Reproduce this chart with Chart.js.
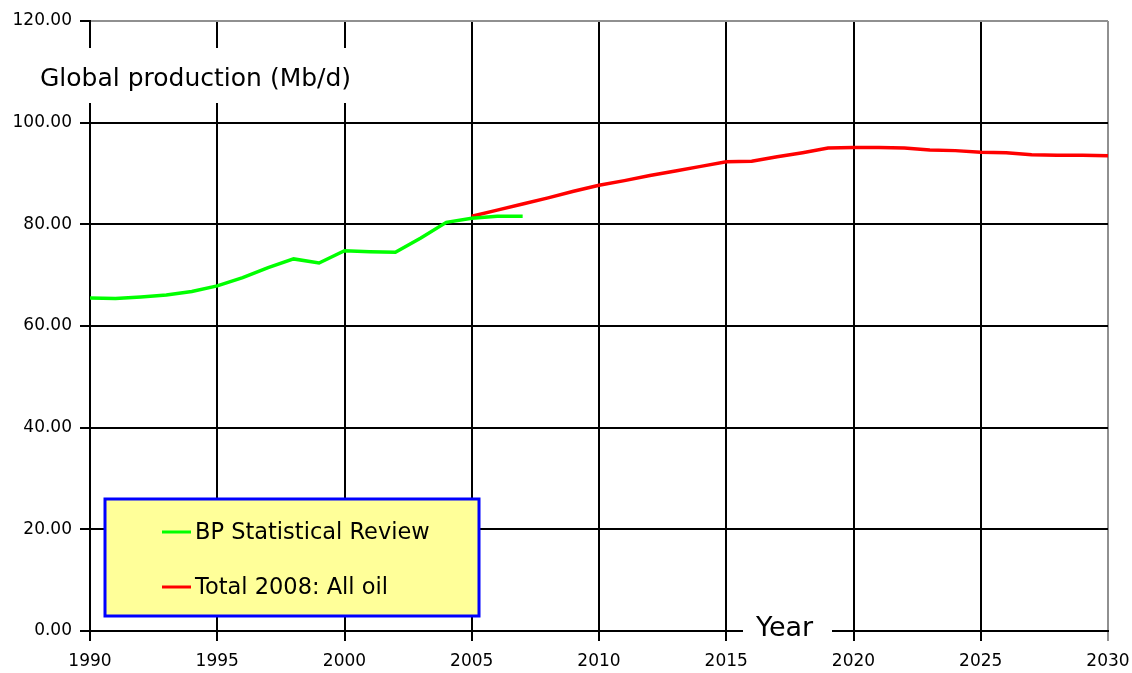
<!DOCTYPE html>
<html>
<head>
<meta charset="utf-8">
<script src="https://cdn.jsdelivr.net/npm/chart.js@4/dist/chart.umd.min.js"></script>
<style>
  html, body { margin: 0; padding: 0; background: #fff; }
  #wrap { width: 1132px; height: 673px; position: relative; }
</style>
</head>
<body>
<div id="wrap"><canvas id="chart"></canvas></div>
<script>
// BP Statistical Review (history)
var bpYears = [1990, 1991, 1992, 1993, 1994, 1995, 1996, 1997, 1998, 1999,
               2000, 2001, 2002, 2003, 2004, 2005, 2006, 2007];
var bpValues = [65.5, 65.4, 65.7, 66.1, 66.8, 67.9, 69.5, 71.5, 73.2, 72.4,
                74.8, 74.6, 74.5, 77.3, 80.4, 81.2, 81.6, 81.6];

// Total 2008 forecast, all oil
var totalYears = [2005, 2006, 2007, 2008, 2009, 2010, 2011, 2012, 2013, 2014,
                  2015, 2016, 2017, 2018, 2019, 2020, 2021, 2022, 2023, 2024,
                  2025, 2026, 2027, 2028, 2029, 2030];
var totalValues = [81.6, 82.8, 84.0, 85.2, 86.5, 87.7, 88.6, 89.6, 90.5, 91.4,
                   92.3, 92.4, 93.3, 94.1, 95.0, 95.1, 95.1, 95.0, 94.6, 94.5,
                   94.2, 94.1, 93.7, 93.6, 93.6, 93.5];

var seriesLabels = ['BP Statistical Review', 'Total 2008: All oil'];
var seriesColors = ['#00ff00', '#ff0000'];

var yTitle = 'Global production (Mb/d)';
var xTitle = 'Year';

function toPoints(xs, ys) {
    return xs.map(function (x, i) { return { x: x, y: ys[i] }; });
}

// axis titles with white boxes and the yellow legend box
var overlay = {
    id: 'overlay',
    afterDraw: function (chart) {
        var ctx = chart.ctx;
        ctx.save();

        ctx.fillStyle = '#ffffff';
        ctx.fillRect(30, 48, 326, 55);
        ctx.fillStyle = '#000';
        ctx.font = '25px "DejaVu Sans"';
        ctx.textBaseline = 'alphabetic';
        ctx.textAlign = 'left';
        ctx.fillText(yTitle, 40, 86);

        ctx.fillStyle = '#ffffff';
        ctx.fillRect(743, 606, 89, 24);
        ctx.fillRect(743, 630, 89, 4);
        ctx.fillStyle = '#000';
        ctx.font = '27px "DejaVu Sans"';
        ctx.fillText(xTitle, 756, 636);

        // legend
        ctx.fillStyle = '#ffff99';
        ctx.fillRect(105, 499, 374, 117);
        ctx.strokeStyle = '#0000ff';
        ctx.lineWidth = 3;
        ctx.strokeRect(105, 499, 374, 117);

        ctx.font = '22.5px "DejaVu Sans"';
        ctx.textBaseline = 'middle';
        var rows = [532, 587];
        chart.data.datasets.forEach(function (ds, i) {
            ctx.strokeStyle = ds.borderColor;
            ctx.lineWidth = 3;
            ctx.beginPath();
            ctx.moveTo(162, rows[i]);
            ctx.lineTo(191, rows[i]);
            ctx.stroke();
            ctx.fillStyle = '#000';
            ctx.fillText(ds.label, 195, rows[i] + 1);
        });
        ctx.restore();
    }
};

var config = {
    type: 'line',
    data: {
        datasets: [{
            label: seriesLabels[0],
            data: toPoints(bpYears, bpValues),
            borderColor: seriesColors[0],
            borderWidth: 3.5,
            pointRadius: 0,
            tension: 0,
            fill: false
        }, {
            label: seriesLabels[1],
            data: toPoints(totalYears, totalValues),
            borderColor: seriesColors[1],
            borderWidth: 3.5,
            pointRadius: 0,
            tension: 0,
            fill: false
        }]
    },
    options: {
        responsive: true,
        maintainAspectRatio: false,
        animation: false,
        layout: { padding: { top: 21, right: 24, bottom: 0, left: 0 } },
        plugins: {
            legend: { display: false },
            tooltip: { enabled: false }
        },
        scales: {
            x: {
                type: 'linear',
                min: 1990,
                max: 2030,
                afterFit: function (scale) {
                    scale.height = 42;
                    scale.paddingLeft = 0;
                    scale.paddingRight = 0;
                },
                ticks: {
                    stepSize: 5,
                    color: '#000',
                    padding: 10,
                    font: { family: 'DejaVu Sans', size: 17 },
                    callback: function (v) { return String(v); }
                },
                grid: {
                    color: function (c) { return c.tick && c.tick.value === 2030 ? '#909090' : '#000'; },
                    lineWidth: 2,
                    tickLength: 10,
                    tickColor: function (c) { return c.tick && c.tick.value === 2030 ? '#909090' : '#000'; }
                },
                border: { color: '#000', width: 2 }
            },
            y: {
                min: 0,
                max: 120,
                afterFit: function (scale) {
                    scale.width = 90;
                    scale.paddingTop = 0;
                    scale.paddingBottom = 0;
                },
                ticks: {
                    stepSize: 20,
                    color: '#000',
                    padding: 8,
                    font: { family: 'DejaVu Sans', size: 17 },
                    callback: function (v) { return v.toFixed(2); }
                },
                grid: {
                    color: function (c) { return c.tick && c.tick.value === 120 ? '#909090' : '#000'; },
                    lineWidth: 2,
                    tickLength: 10,
                    tickColor: '#000'
                },
                border: { color: '#000', width: 2 }
            }
        }
    },
    plugins: [overlay]
};

var ctx = document.getElementById('chart').getContext('2d');
var chart = new Chart(ctx, config);
</script>
</body>
</html>
